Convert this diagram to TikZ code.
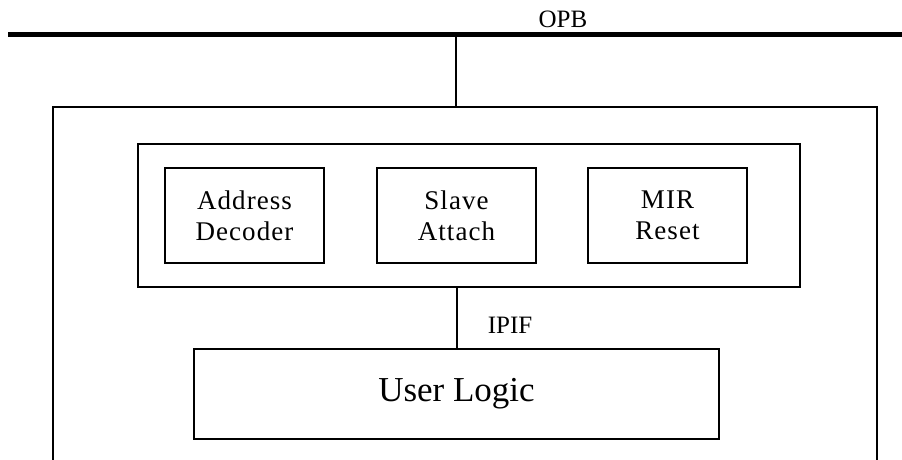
\documentclass[tikz,border=0pt]{standalone}
\usepackage{fontspec}
\setmainfont{Liberation Serif}
\newfontfamily\trackedserif[LetterSpace=4]{Liberation Serif}
\begin{document}
\begin{tikzpicture}[x=1pt, y=-1pt,
  frame/.style={draw=black, line width=2pt},
  wire/.style={draw=black, line width=2pt},
  bus/.style={draw=black, line width=5pt},
  unit/.style={frame, minimum width=159pt, minimum height=95pt, inner sep=0pt,
    align=center, font=\fontsize{27}{31}\trackedserif},
  busname/.style={anchor=base, font=\fontsize{25}{30}\selectfont}
]
\useasboundingbox (0,0) rectangle (902,459);

% OPB bus
\coordinate (busL) at (8,34);
\coordinate (busR) at (902,34);
\coordinate (tap) at (456,34);
\draw[bus] (busL) -- (busR);
\node[busname] (opb) at (563,27) {OPB};

% peripheral frame, open at the bottom
\coordinate (frameBL) at (52.5,462);
\coordinate (frameTL) at (52.5,107);
\coordinate (frameTR) at (877,107);
\coordinate (frameBR) at (877,462);
\coordinate (frameTap) at (456,107);
\draw[frame] (frameBL) -- (frameTL) -- (frameTR) -- (frameBR);
\draw[wire] (tap) -- (frameTap);

% IPIF block and its units
\node[frame, minimum width=662pt, minimum height=143pt, inner sep=0pt] (ipifblock) at (469,215.5) {};
\node[unit] (decoder) at (244.5,215.5) {Address\\Decoder};
\node[unit] (slave) at (456.5,215.5) {Slave\\Attach};
\node[unit] (mir) at (667.5,215.5) {MIR\\Reset};

% user logic
\node[frame, minimum width=525pt, minimum height=90pt, inner sep=0pt,
  font=\fontsize{35}{40}\selectfont] (user) at (456.5,394) {User Logic};
\draw[wire] (ipifblock.south -| user.north) -- (user.north);
\node[busname] (ipif) at (510,333) {IPIF};
\end{tikzpicture}
\end{document}
